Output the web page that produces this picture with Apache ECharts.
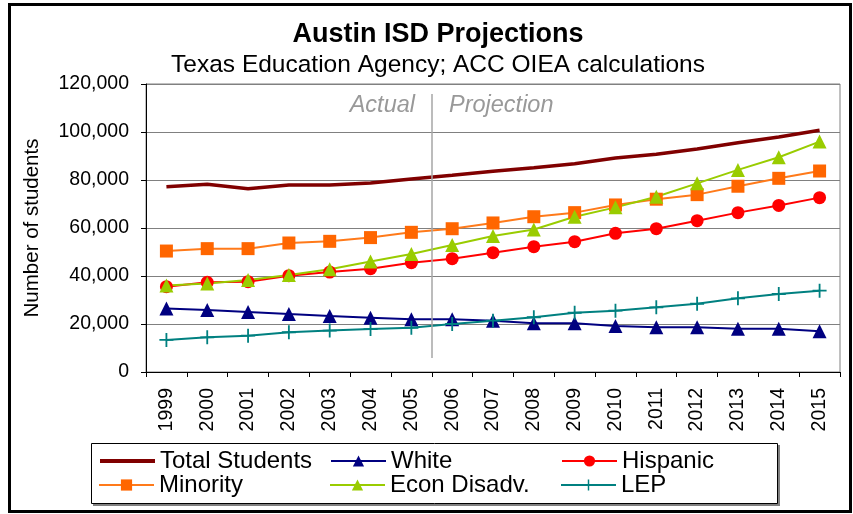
<!DOCTYPE html>
<html>
<head>
<meta charset="utf-8">
<script src="https://cdn.jsdelivr.net/npm/echarts@6/dist/echarts.min.js"></script>
<style>
html,body{margin:0;padding:0;background:#fff;}
#chart{width:853px;height:514px;}
</style>
</head>
<body>
<div id="chart"></div>
<script>
const years = ['1999','2000','2001','2002','2003','2004','2005','2006','2007','2008','2009','2010','2011','2012','2013','2014','2015'];
const totalStudents = [77200, 78200, 76400, 77900, 77900, 78750, 80400, 81950, 83600, 85100, 86800, 89200, 90700, 92900, 95500, 97900, 100700];
const white = [26500, 25850, 25000, 24150, 23350, 22650, 21950, 21950, 21400, 20300, 20300, 19150, 18600, 18600, 18050, 18050, 16950];
const hispanic = [35550, 37350, 37650, 40150, 41650, 43050, 45550, 47200, 49700, 52200, 54300, 57800, 59700, 63050, 66400, 69400, 72650];
const minority = [50400, 51400, 51400, 53750, 54450, 56000, 58200, 59700, 62100, 64700, 66400, 69600, 72000, 73900, 77400, 80700, 83750];
const econDisadv = [36000, 36900, 38300, 40400, 42800, 46000, 49200, 52900, 56700, 59400, 64700, 68600, 73000, 78600, 84200, 89500, 96000];
const lep = [13350, 14450, 15150, 16550, 17250, 17900, 18450, 20000, 21400, 22800, 24700, 25550, 26950, 28450, 30700, 32500, 33900];
const seriesNames = ['Total Students', 'White', 'Hispanic', 'Minority', 'Econ Disadv.', 'LEP'];
const periodLabels = ['Actual', 'Projection'];
const dividerPosition = 7; // boundary between 2005 and 2006 (index units)
const dividerRange = [5800, 115800];

const FONT = '"Liberation Sans", Arial, sans-serif';
const plusPath = 'path://M4.35,0H5.65V4.35H10V5.65H5.65V10H4.35V5.65H0V4.35H4.35Z';

const chart = echarts.init(document.getElementById('chart'), null, {renderer: 'canvas'});

function lineSeries(name, data, color, symbol, size, width, lineColor) {
  return {
    name: name, type: 'line', data: data,
    symbol: symbol, symbolSize: size, showSymbol: symbol !== 'none',
    lineStyle: {color: lineColor || color, width: width},
    itemStyle: {color: color},
    emphasis: {disabled: true},
    z: 3
  };
}

const legendCommon = {
  orient: 'horizontal', left: 98, padding: 0,
  itemWidth: 55, itemHeight: 14, itemGap: 14,
  textStyle: {fontFamily: FONT, fontSize: 24, color: '#000', width: 156, lineHeight: 24},
  selectedMode: false
};

const option = {
  animation: false,
  backgroundColor: '#fff',
  title: [
    {text: 'Austin ISD Projections', left: 438, top: 21, textAlign: 'center', padding: 0,
     textStyle: {fontFamily: FONT, fontSize: 27, fontWeight: 'bold', color: '#000'}},
    {text: 'Texas Education Agency; ACC OIEA calculations', left: 438, top: 53, textAlign: 'center', padding: 0,
     textStyle: {fontFamily: FONT, fontSize: 24.5, fontWeight: 'normal', color: '#000'}}
  ],
  legend: [
    Object.assign({}, legendCommon, {top: 449, data: [
      {name: seriesNames[0], itemStyle: {opacity: 0, borderWidth: 0}, lineStyle: {width: 4}},
      seriesNames[1], seriesNames[2]]}),
    Object.assign({}, legendCommon, {top: 473, data: [seriesNames[3], seriesNames[4], seriesNames[5]]})
  ],
  grid: {left: 146, right: 13, top: 84, bottom: 142, show: true, borderColor: '#808080', borderWidth: 1, containLabel: false},
  xAxis: [
    {type: 'category', data: years, boundaryGap: true,
     axisLine: {lineStyle: {color: '#000', width: 1}},
     axisTick: {show: true, inside: false, length: 5, lineStyle: {color: '#000'}},
     axisLabel: {rotate: 90, margin: 16, fontFamily: FONT, fontSize: 19.5, color: '#000', interval: 0},
     splitLine: {show: false}},
    {type: 'value', min: 0, max: years.length, show: false}
  ],
  yAxis: {
    type: 'value', min: 0, max: 120000, interval: 20000,
    name: 'Number of students', nameLocation: 'middle', nameGap: 103, nameRotate: 90,
    nameTextStyle: {fontFamily: FONT, fontSize: 20.5, color: '#000'},
    axisLine: {show: true, lineStyle: {color: '#000', width: 1}},
    axisTick: {show: true, inside: false, length: 5, lineStyle: {color: '#000'}},
    axisLabel: {margin: 17, fontFamily: FONT, fontSize: 19.5, color: '#000',
      formatter: v => v.toLocaleString('en-US')},
    splitLine: {show: true, lineStyle: {color: '#808080', width: 1}}
  },
  series: [
    lineSeries(seriesNames[0], totalStudents, '#800000', 'none', 0, 3.5),
    lineSeries(seriesNames[1], white, '#000080', 'triangle', 14, 2),
    lineSeries(seriesNames[2], hispanic, '#ff0000', 'circle', 13, 2),
    lineSeries(seriesNames[3], minority, '#ff6600', 'rect', 13, 2, '#ff7a1a'),
    lineSeries(seriesNames[4], econDisadv, '#99cc00', 'triangle', 14, 2),
    lineSeries(seriesNames[5], lep, '#008080', plusPath, 14, 2),
    {
      name: 'divider', type: 'line', xAxisIndex: 1, data: [], silent: true,
      markLine: {
        silent: true, symbol: ['none', 'none'], label: {show: false},
        lineStyle: {color: '#a6a6a6', width: 1.5, type: 'solid'},
        data: [[{coord: [dividerPosition, dividerRange[0]]}, {coord: [dividerPosition, dividerRange[1]]}]]
      }
    }
  ],
  graphic: [
    {type: 'rect', z: 0, shape: {x: 9.5, y: 4.5, width: 841, height: 507},
     style: {fill: 'none', stroke: '#000', lineWidth: 3}},
    {type: 'rect', z: 0, shape: {x: 93, y: 445, width: 687, height: 61},
     style: {fill: '#808080', stroke: 'none'}},
    {type: 'rect', z: 1, shape: {x: 91.5, y: 443.5, width: 686, height: 60},
     style: {fill: '#fff', stroke: '#000', lineWidth: 1}},
    {type: 'text', z: 5, x: 415, y: 105,
     style: {text: periodLabels[0], fill: '#999', font: 'italic 23.5px ' + FONT, textAlign: 'right', textVerticalAlign: 'middle'}},
    {type: 'text', z: 5, x: 449, y: 105,
     style: {text: periodLabels[1], fill: '#999', font: 'italic 23.5px ' + FONT, textAlign: 'left', textVerticalAlign: 'middle'}}
  ]
};
chart.setOption(option);
</script>
</body>
</html>
